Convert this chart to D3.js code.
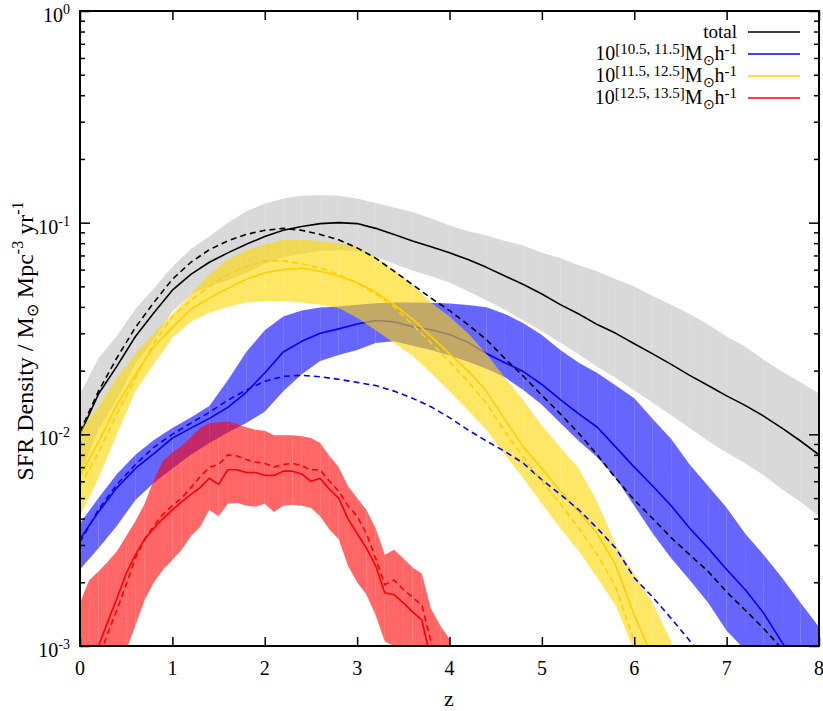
<!DOCTYPE html>
<html>
<head>
<meta charset="utf-8">
<script src="https://cdn.jsdelivr.net/npm/d3@7"></script>
<style>
  body { margin: 0; background: #fff; }
  text { font-family: "Liberation Serif", "Times New Roman", serif; fill: #000; }
</style>
</head>
<body>
<svg id="chart" width="823" height="711"></svg>
<script>
// redshift grids
var zGrid = [0,0.2,0.4,0.6,0.8,1.0,1.2,1.4,1.6,1.8,2.0,2.2,2.4,2.6,2.8,3.0,3.2,3.4,3.6,3.8,4.0,
             4.2,4.4,4.6,4.8,5.0,5.2,5.4,5.6,5.8,6.0,6.2,6.4,6.6,6.8,7.0,7.2,7.4,7.6,7.8,8.0];
var zRed = [0,0.1,0.2,0.3,0.4,0.5,0.6,0.7,0.8,0.9,1.0,1.1,1.2,1.3,1.4,1.5,1.6,1.7,1.8,1.9,2.0,
            2.1,2.2,2.3,2.4,2.5,2.6,2.7,2.8,2.9,3.0,3.1,3.2,3.3,3.4,3.5,3.6,3.7,3.8,3.9,4.0];

// total
var totalSolid = [0.0100,0.0155,0.0210,0.0290,0.0375,0.0480,0.0570,0.0650,0.0720,0.0790,0.0860,0.0920,0.0960,0.0990,0.1000,0.0990,0.0940,0.0880,0.0820,0.0770,0.0720,
                  0.0670,0.0615,0.0560,0.0510,0.0460,0.0410,0.0370,0.0330,0.0300,0.0268,0.0240,0.0214,0.0190,0.0170,0.0152,0.0137,0.0122,0.0107,0.0093,0.0080];
var totalDashed = [0.0103,0.0160,0.0230,0.0320,0.0420,0.0540,0.0650,0.0745,0.0820,0.0880,0.0920,0.0940,0.0920,0.0880,0.0830,0.0760,0.0680,0.0590,0.0510,0.0440,0.0385,
                   0.0330,0.0280,0.0228,0.0188,0.0153,0.0125,0.0101,0.0080,0.0062,0.0049,0.0040,0.00325,0.0027,0.00225,0.00180,0.00148,0.00121,0.00097,0.00079,0.00065];
var totalUpper = [0.0155,0.0229,0.0292,0.0391,0.0488,0.0620,0.0750,0.0860,0.1000,0.1130,0.1230,0.1300,0.1340,0.1350,0.1340,0.1300,0.1240,0.1180,0.1120,0.1050,0.0970,
                  0.0910,0.0870,0.0820,0.0780,0.0720,0.0680,0.0630,0.0590,0.0540,0.0500,0.0450,0.0410,0.0370,0.0330,0.0290,0.0260,0.0225,0.0198,0.0176,0.0156];
var totalLower = [0.0065,0.0105,0.0147,0.0215,0.0280,0.0380,0.0458,0.0500,0.0534,0.0578,0.0637,0.0689,0.0711,0.0734,0.0741,0.0734,0.0689,0.0639,0.0594,0.0558,0.0522,
                  0.0474,0.0430,0.0388,0.0345,0.0307,0.0271,0.0239,0.0208,0.0185,0.0161,0.0141,0.0123,0.0107,0.0093,0.0082,0.0073,0.0064,0.0055,0.0048,0.0041];

// 10^[10.5, 11.5]
var lowSolid = [0.0032,0.0043,0.0056,0.0069,0.0081,0.0096,0.0107,0.0119,0.0134,0.0158,0.0195,0.0245,0.0275,0.0300,0.0315,0.0332,0.0345,0.0340,0.0322,0.0312,0.0296,
                0.0272,0.0241,0.0218,0.0198,0.0172,0.0146,0.0125,0.0108,0.0087,0.0070,0.0057,0.0046,0.0036,0.0029,0.0023,0.00185,0.00143,0.00104,0.00078,0.00058];
var lowDashed = [0.0031,0.0044,0.0058,0.0072,0.0087,0.0100,0.0113,0.0127,0.0145,0.0162,0.0178,0.0188,0.0190,0.0187,0.0182,0.0176,0.0170,0.0160,0.0148,0.0135,0.0120,
                 0.0105,0.0093,0.0083,0.0073,0.0061,0.0052,0.0044,0.0036,0.0029,0.0021,0.0017,0.00135,0.00106,0.00083];
var lowUpper = [0.0038,0.0050,0.0065,0.0080,0.0094,0.0107,0.0120,0.0136,0.0180,0.0245,0.0310,0.0360,0.0385,0.0397,0.0402,0.0410,0.0416,0.0420,0.0420,0.0418,0.0415,
                0.0408,0.0398,0.0370,0.0335,0.0295,0.0250,0.0218,0.0195,0.0170,0.0148,0.0118,0.0095,0.0072,0.0057,0.0045,0.0034,0.0027,0.0021,0.0016,0.00123];
var lowLower = [0.0023,0.0029,0.0037,0.0049,0.0059,0.0069,0.0080,0.0091,0.0102,0.0113,0.0128,0.0160,0.0192,0.0222,0.0237,0.0250,0.0270,0.0275,0.0262,0.0250,0.0236,
                0.0220,0.0204,0.0186,0.0162,0.0138,0.0113,0.0093,0.0078,0.0062,0.0046,0.0034,0.0026,0.00205,0.0016,0.00118,0.00096,0.00075,0.0006,0.0005,0.0004];

// 10^[11.5, 12.5]
var midSolid = [0.0064,0.0092,0.0138,0.0192,0.0260,0.0320,0.0390,0.0440,0.0490,0.0540,0.0580,0.0600,0.0610,0.0590,0.0560,0.0520,0.0470,0.0410,0.0350,0.0290,0.0240,
                0.0200,0.0160,0.0117,0.0087,0.0069,0.0054,0.0043,0.0034,0.0024,0.0014,0.00088,0.0006];
var midDashed = [0.0057,0.0082,0.0125,0.0185,0.0270,0.0360,0.0430,0.0500,0.0570,0.0620,0.0660,0.0660,0.0640,0.0610,0.0570,0.0520,0.0460,0.0400,0.0330,0.0270,0.0220,
                 0.0178,0.0140,0.0103,0.0078,0.0060,0.0047,0.0036,0.0027,0.0019,0.00105,0.0007,0.0005];
var midUpper = [0.0104,0.0135,0.0185,0.0240,0.0300,0.0370,0.0460,0.0570,0.0670,0.0740,0.0790,0.0830,0.0830,0.0820,0.0800,0.0770,0.0690,0.0600,0.0510,0.0420,0.0360,
                0.0300,0.0240,0.0185,0.0145,0.0110,0.0087,0.0069,0.0048,0.0030,0.0022,0.0016,0.00105];
var midLower = [0.0041,0.0062,0.0100,0.0160,0.0215,0.0285,0.0340,0.0375,0.0400,0.0420,0.0425,0.0425,0.0420,0.0410,0.0395,0.0355,0.0310,0.0270,0.0235,0.0195,0.0160,
                0.0130,0.0105,0.0080,0.0062,0.0047,0.0036,0.0028,0.0021,0.00155,0.00095,0.00065,0.00045];

// 10^[12.5, 13.5]
var highSolid = [0.00055,0.00075,0.00100,0.00130,0.00168,0.00220,0.0027,0.0032,0.0036,0.0040,0.0044,0.0048,0.0052,0.0056,0.0062,0.0058,0.0068,0.0068,0.0066,0.0066,0.0064,
                 0.0064,0.0067,0.0067,0.0065,0.0060,0.0062,0.0055,0.0050,0.0040,0.0034,0.0029,0.0024,0.00178,0.00175,0.00160,0.00145,0.00133,0.00085,0.0006,0.0004];
var highDashed = [0.00040,0.00060,0.00085,0.00115,0.00148,0.00195,0.0026,0.0032,0.0037,0.0042,0.0046,0.0050,0.0056,0.0063,0.0070,0.0072,0.0080,0.0079,0.0076,0.0074,0.0073,
                  0.0070,0.0072,0.0073,0.0071,0.0068,0.0068,0.0060,0.0054,0.0046,0.0041,0.0034,0.0026,0.00195,0.00205,0.00185,0.00170,0.00156,0.00105,0.0007,0.0005];
var highUpper = [0.00160,0.00205,0.00225,0.00250,0.00280,0.00330,0.00390,0.0047,0.0061,0.0075,0.0082,0.0088,0.0097,0.0107,0.0113,0.0114,0.0115,0.0112,0.0108,0.0105,0.0104,
                 0.0099,0.0099,0.0099,0.0098,0.0096,0.0091,0.0079,0.0070,0.0057,0.0050,0.0044,0.0036,0.00270,0.00285,0.00260,0.00235,0.00220,0.00150,0.00125,0.00108];
var highLower = [0.00030,0.00038,0.00048,0.00060,0.00075,0.00095,0.00125,0.00165,0.00200,0.00230,0.00255,0.00285,0.00330,0.00365,0.00440,0.00410,0.00470,0.00475,0.00460,0.00455,0.00470,
                 0.00430,0.00460,0.00465,0.00460,0.00450,0.00410,0.00355,0.00320,0.00240,0.00200,0.00175,0.00140,0.00105,0.00100,0.00085,0.00075,0.00065,0.00045,0.00035,0.00028];

var xTicks = [0,1,2,3,4,5,6,7,8];
var yMajor = [1e-3,1e-2,1e-1,1];
var yExp = ["-3","-2","-1","0"];
var legendNames = ["total", "[10.5, 11.5]", "[11.5, 12.5]", "[12.5, 13.5]"];

(function() {
  var svg = d3.select("#chart");
  var pLeft = 80, pRight = 819, pTop = 11, pBottom = 646;

  var x = d3.scaleLinear().domain([0, 8]).range([pLeft, pRight]);
  var y = d3.scaleLog().domain([1e-3, 1]).range([pBottom, pTop]);

  svg.append("defs").append("clipPath").attr("id", "plotclip")
    .append("rect").attr("x", pLeft).attr("y", pTop)
    .attr("width", pRight - pLeft).attr("height", pBottom - pTop);

  var plot = svg.append("g").attr("clip-path", "url(#plotclip)");

  var groups = [
    {z: zGrid, hi: totalUpper, lo: totalLower, solid: totalSolid, dashed: totalDashed, band: "#c0c0c0", line: "#000000"},
    {z: zGrid, hi: lowUpper,   lo: lowLower,   solid: lowSolid,   dashed: lowDashed,   band: "#0000ff", line: "#0000ff"},
    {z: zGrid, hi: midUpper,   lo: midLower,   solid: midSolid,   dashed: midDashed,   band: "#ffd700", line: "#ffd000"},
    {z: zRed,  hi: highUpper,  lo: highLower,  solid: highSolid,  dashed: highDashed,  band: "#ff0000", line: "#ff0000"}
  ];

  var area = d3.area()
    .x(function(d) { return x(d.z); })
    .y0(function(d) { return y(d.lo); })
    .y1(function(d) { return y(d.hi); });

  function lineFor(z) {
    return d3.line().x(function(d, i) { return x(z[i]); }).y(function(d) { return y(d); });
  }

  // bands drawn segment by segment (gives the faint vertical seams)
  groups.forEach(function(g) {
    var pts = g.hi.map(function(v, i) { return {z: g.z[i], hi: v, lo: g.lo[i]}; });
    plot.append("g").selectAll("path")
      .data(d3.pairs(pts))
      .enter().append("path")
      .attr("d", area)
      .attr("fill", g.band)
      .attr("fill-opacity", 0.6)
      .attr("stroke", "none");

    plot.append("path")
      .attr("d", lineFor(g.z)(g.solid))
      .attr("fill", "none")
      .attr("stroke", g.line)
      .attr("stroke-width", 1.6)
      .attr("stroke-linejoin", "round");
  });

  groups.forEach(function(g) {
    plot.append("path")
      .attr("d", lineFor(g.z)(g.dashed))
      .attr("fill", "none")
      .attr("stroke", g.line)
      .attr("stroke-width", 1.6)
      .attr("stroke-dasharray", "6,4");
  });

  // ticks on all four sides
  var minor = [];
  [1e-3, 1e-2, 1e-1].forEach(function(d) {
    for (var k = 2; k <= 9; k++) minor.push(d * k);
  });

  function tickAxis(axis, tx, ty) {
    var a = svg.append("g").attr("transform", "translate(" + tx + "," + ty + ")").call(axis);
    a.select(".domain").remove();
    a.selectAll("line").attr("stroke", "#000").attr("stroke-width", 1.5);
    return a;
  }
  tickAxis(d3.axisBottom(x).tickValues(xTicks).tickSize(-9).tickFormat(""), 0, pBottom);
  tickAxis(d3.axisTop(x).tickValues(xTicks).tickSize(-9).tickFormat(""), 0, pTop);
  tickAxis(d3.axisLeft(y).tickValues(yMajor).tickSize(-10).tickFormat(""), pLeft, 0);
  tickAxis(d3.axisLeft(y).tickValues(minor).tickSize(-5).tickFormat(""), pLeft, 0);
  tickAxis(d3.axisRight(y).tickValues(yMajor).tickSize(-10).tickFormat(""), pRight, 0);
  tickAxis(d3.axisRight(y).tickValues(minor).tickSize(-5).tickFormat(""), pRight, 0);

  svg.append("rect")
    .attr("x", pLeft).attr("y", pTop)
    .attr("width", pRight - pLeft).attr("height", pBottom - pTop)
    .attr("fill", "none").attr("stroke", "#000").attr("stroke-width", 2);

  // tick labels
  svg.append("g").selectAll("text")
    .data(xTicks).enter().append("text")
    .attr("x", function(d) { return x(d); })
    .attr("y", 675)
    .attr("text-anchor", "middle")
    .style("font-size", "20px")
    .text(function(d) { return d; });

  var yl = svg.append("g").selectAll("text")
    .data(yMajor).enter().append("text")
    .attr("x", 70)
    .attr("y", function(d) { return y(d) + 11; })
    .attr("text-anchor", "end")
    .style("font-size", "20px");
  yl.append("tspan").text("10");
  yl.append("tspan").attr("dy", -8).style("font-size", "14px")
    .text(function(d, i) { return yExp[i]; });

  // axis titles
  svg.append("text")
    .attr("x", 449).attr("y", 706)
    .attr("text-anchor", "middle")
    .style("font-size", "22px")
    .text("z");

  var yt = svg.append("text")
    .attr("transform", "translate(33,341) rotate(-90)")
    .attr("text-anchor", "middle")
    .style("font-size", "24px");
  yt.append("tspan").text("SFR Density / M");
  yt.append("tspan").attr("dy", 5).style("font-size", "16px").text("\u2299");
  yt.append("tspan").attr("dy", -5).text(" Mpc");
  yt.append("tspan").attr("dy", -10).style("font-size", "16px").text("-3");
  yt.append("tspan").attr("dy", 10).text(" yr");
  yt.append("tspan").attr("dy", -10).style("font-size", "16px").text("-1");

  // legend
  var legend = svg.append("g");
  groups.forEach(function(g, i) {
    var ly = 32 + i * 22;
    legend.append("line")
      .attr("x1", 748).attr("x2", 800)
      .attr("y1", ly).attr("y2", ly)
      .attr("stroke", g.line).attr("stroke-width", 1.6);
    var t = legend.append("text")
      .attr("x", 737).attr("y", ly + 6)
      .attr("text-anchor", "end")
      .style("font-size", "20px");
    if (i === 0) {
      t.style("font-size", "19px").text(legendNames[0]);
    } else {
      t.append("tspan").text("10");
      t.append("tspan").attr("dy", -6).style("font-size", "15px").text(legendNames[i]);
      t.append("tspan").attr("dy", 6).text("M");
      t.append("tspan").attr("dy", 5).style("font-size", "14px").text("\u2299");
      t.append("tspan").attr("dy", -5).text("h");
      t.append("tspan").attr("dy", -6).style("font-size", "15px").text("-1");
    }
  });
})();
</script>
</body>
</html>
